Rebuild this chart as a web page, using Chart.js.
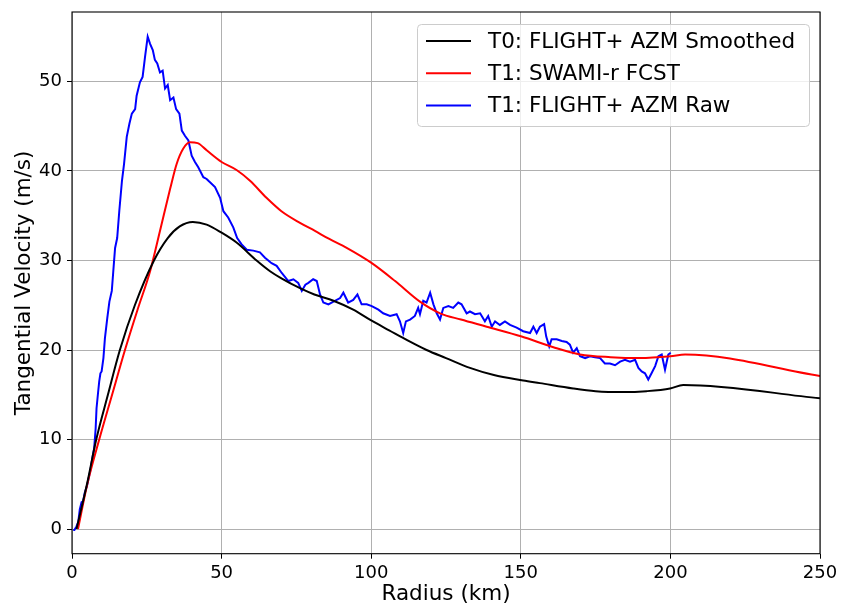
<!DOCTYPE html>
<html>
<head>
<meta charset="utf-8">
<script src="https://cdn.jsdelivr.net/npm/chart.js@4.4.0/dist/chart.umd.min.js"></script>
<style>
  html, body { margin: 0; padding: 0; background: #fff; }
  #chart { display: block; }
</style>
</head>
<body>
<canvas id="chart" width="848" height="610"></canvas>
<script>
// Series values (radius km -> tangential velocity m/s)
const smoothR = [1.5, 5, 8.1, 12, 16, 21, 27.4, 32, 36, 40.4, 45, 50, 55, 61.7, 66.2, 70, 76.2, 81, 87.4, 94, 100, 106, 112, 118.5, 125, 133, 141, 150.8, 156.4, 167.5, 175, 184.3, 192, 199.9, 204.3, 250];
const smoothV = [0, 5, 10, 15, 20, 25, 30, 32.5, 33.8, 34.3, 34.0, 33.1, 32.0, 30.0, 28.8, 28.0, 26.9, 26.2, 25.5, 24.5, 23.3, 22.2, 21.1, 20.0, 19.1, 18.0, 17.2, 16.6, 16.3, 15.7, 15.4, 15.3, 15.4, 15.7, 16.1, 14.6];

const fcstR = [2.0, 5.1, 9.1, 13.4, 17.7, 22, 26.1, 29.4, 32.8, 35, 37.2, 39.4, 42, 45, 50, 55, 59.5, 65, 70, 76.2, 81.2, 86, 91.8, 100.2, 108, 116.3, 123, 130, 138.6, 150.3, 160.9, 169.8, 180, 189.8, 200, 204.9, 250];
const fcstV = [0, 5, 10, 15, 20, 24.6, 28.8, 33.3, 38.0, 40.8, 42.5, 43.2, 43.1, 42.3, 41.0, 40.1, 38.9, 37.0, 35.5, 34.2, 33.3, 32.4, 31.4, 29.7, 27.7, 25.4, 24.1, 23.4, 22.6, 21.5, 20.3, 19.5, 19.2, 19.1, 19.3, 19.5, 17.1];

const rawR = [0.4, 0.8, 1.5, 2.1, 2.6, 3.2, 3.7, 4.3, 5.0, 5.5, 6.1, 6.6, 7.0, 7.4, 7.9, 8.2, 8.7, 9.1, 9.5, 9.9, 10.5, 11.0, 11.8, 12.5, 13.3, 13.8, 14.4, 15.1, 15.8, 16.7, 17.4, 18.3, 19.2, 20.0, 21.1, 21.6, 22.7, 23.6, 24.4, 25.3, 26.1, 27.0, 27.7, 28.5, 29.4, 30.3, 31.1, 32.0, 32.8, 33.9, 34.8, 35.9, 36.7, 37.8, 38.9, 40.0, 41.1, 42.2, 43.9, 45.0, 45.6, 47.8, 49.5, 50.6, 52.2, 53.9, 55.2, 56.7, 58.4, 60.6, 62.8, 64.5, 66.7, 68.4, 70.1, 72.3, 74.0, 75.6, 76.8, 78.0, 79.0, 80.6, 81.8, 82.9, 84.0, 85.7, 87.4, 89.6, 90.7, 92.3, 94.0, 95.4, 96.8, 98.5, 100.2, 102.4, 104.0, 106.3, 108.5, 109.6, 110.7, 111.6, 113.0, 114.6, 115.7, 116.3, 117.4, 118.5, 119.7, 120.8, 121.9, 123.0, 124.1, 125.8, 127.4, 129.1, 130.2, 131.9, 133.0, 134.7, 136.4, 138.0, 139.1, 140.3, 141.4, 143.0, 144.7, 146.4, 148.6, 150.8, 153.1, 154.2, 155.3, 156.4, 157.8, 158.5, 159.5, 160.3, 162.0, 163.7, 165.3, 166.4, 167.5, 168.7, 169.8, 171.5, 173.1, 174.8, 176.5, 178.1, 179.8, 181.5, 183.2, 184.8, 186.5, 188.2, 189.3, 190.4, 191.5, 192.6, 193.7, 194.9, 196.0, 197.1, 198.2, 199.3, 200.1];
const rawV = [-0.1, -0.1, 0.3, 0.8, 2.2, 3.0, 3.1, 4.1, 4.8, 5.6, 6.5, 7.5, 8.3, 9.0, 11.2, 13.5, 15.2, 16.5, 17.4, 17.6, 19.1, 21.3, 23.6, 25.4, 26.6, 28.8, 31.4, 32.5, 35.5, 38.9, 40.8, 43.8, 45.3, 46.4, 46.9, 48.4, 49.9, 50.5, 52.7, 55.0, 54.2, 53.5, 52.4, 52.0, 51.0, 51.2, 49.2, 49.6, 47.9, 48.2, 46.9, 46.4, 44.5, 43.9, 43.4, 41.7, 41.0, 40.4, 39.3, 39.1, 38.9, 38.2, 37.0, 35.5, 34.8, 33.7, 32.5, 31.8, 31.2, 31.1, 30.9, 30.3, 29.7, 29.4, 28.6, 27.7, 27.9, 27.5, 26.6, 27.3, 27.5, 27.9, 27.7, 26.2, 25.3, 25.1, 25.4, 25.8, 26.4, 25.3, 25.6, 26.2, 25.1, 25.1, 24.9, 24.5, 24.1, 23.8, 24.0, 23.2, 21.9, 23.2, 23.4, 23.8, 24.7, 24.0, 25.5, 25.3, 26.4, 25.1, 24.1, 23.4, 24.7, 24.9, 24.7, 25.3, 25.1, 24.1, 24.3, 24.0, 24.1, 23.2, 23.8, 22.6, 23.2, 22.8, 23.2, 22.8, 22.5, 22.1, 21.9, 22.6, 21.9, 22.6, 22.9, 21.5, 20.4, 21.2, 21.2, 21.0, 20.9, 20.6, 19.7, 20.2, 19.3, 19.1, 19.3, 19.2, 19.1, 18.5, 18.5, 18.3, 18.7, 18.9, 18.7, 18.9, 18.0, 17.6, 17.4, 16.7, 17.4, 18.2, 19.3, 19.5, 17.8, 19.5, 19.7];

const seriesLabels = ['T0: FLIGHT+ AZM Smoothed', 'T1: SWAMI-r FCST', 'T1: FLIGHT+ AZM Raw'];
const xTicks = [0, 50, 100, 150, 200, 250];
const yTicks = [0, 10, 20, 30, 40, 50];

const FONT = 'DejaVu Sans';

function toPoints(xs, ys) {
  return xs.map((x, i) => ({ x: x, y: ys[i] }));
}

// Four-sided axes frame like matplotlib spines
const framePlugin = {
  id: 'frame',
  afterDatasetsDraw(chart) {
    const { ctx, chartArea: a } = chart;
    ctx.save();
    ctx.strokeStyle = '#000';
    ctx.lineWidth = 1.1;
    ctx.strokeRect(a.left, a.top, a.right - a.left, a.bottom - a.top);
    ctx.restore();
  }
};

// Boxed legend in the upper right of the plot
const legendPlugin = {
  id: 'boxLegend',
  afterDraw(chart) {
    const ctx = chart.ctx;
    const bx = 417.5, by = 24.5, bw = 392, bh = 102, r = 4;
    ctx.save();
    ctx.beginPath();
    ctx.moveTo(bx + r, by);
    ctx.arcTo(bx + bw, by, bx + bw, by + bh, r);
    ctx.arcTo(bx + bw, by + bh, bx, by + bh, r);
    ctx.arcTo(bx, by + bh, bx, by, r);
    ctx.arcTo(bx, by, bx + bw, by, r);
    ctx.closePath();
    ctx.fillStyle = 'rgba(255,255,255,0.8)';
    ctx.fill();
    ctx.strokeStyle = '#cccccc';
    ctx.lineWidth = 1;
    ctx.stroke();

    ctx.font = '21.5px "' + FONT + '"';
    ctx.textBaseline = 'middle';
    ctx.textAlign = 'left';
    chart.data.datasets.forEach((ds, i) => {
      const yy = 41 + i * 32.3;
      ctx.strokeStyle = ds.borderColor;
      ctx.lineWidth = 2;
      ctx.beginPath();
      ctx.moveTo(426, yy);
      ctx.lineTo(471, yy);
      ctx.stroke();
      ctx.fillStyle = '#000';
      ctx.fillText(ds.label, 488, yy + 1);
    });
    ctx.restore();
  }
};

new Chart(document.getElementById('chart'), {
  type: 'line',
  data: {
    datasets: [
      {
        label: seriesLabels[0],
        data: toPoints(smoothR, smoothV),
        borderColor: '#000000',
        borderWidth: 2,
        pointRadius: 0,
        cubicInterpolationMode: 'monotone'
      },
      {
        label: seriesLabels[1],
        data: toPoints(fcstR, fcstV),
        borderColor: '#ff0000',
        borderWidth: 2,
        pointRadius: 0,
        cubicInterpolationMode: 'monotone'
      },
      {
        label: seriesLabels[2],
        data: toPoints(rawR, rawV),
        borderColor: '#0000ff',
        borderWidth: 2,
        pointRadius: 0,
        tension: 0
      }
    ]
  },
  options: {
    responsive: false,
    animation: false,
    devicePixelRatio: 1,
    layout: { padding: { left: 0, right: 28, top: 12, bottom: 0 } },
    plugins: {
      legend: { display: false },
      tooltip: { enabled: false }
    },
    scales: {
      x: {
        type: 'linear',
        min: 0,
        max: 250,
        afterBuildTicks: s => { s.ticks = xTicks.map(v => ({ value: v })); },
        afterFit: s => { s.height = 56.3; s.paddingLeft = 0; s.paddingRight = 0; },
        ticks: { color: '#000', font: { family: FONT, size: 18 }, padding: 4, maxRotation: 0 },
        grid: { color: '#b0b0b0', lineWidth: 1, tickColor: '#000', tickLength: 5 },
        border: { display: false },
        title: {
          display: true,
          text: 'Radius (km)',
          color: '#000',
          font: { family: FONT, size: 21.5 },
          padding: { top: 0, bottom: 3 }
        }
      },
      y: {
        type: 'linear',
        min: -2.75,
        max: 57.75,
        afterBuildTicks: s => { s.ticks = yTicks.map(v => ({ value: v })); },
        afterFit: s => { s.width = 72; s.paddingTop = 0; s.paddingBottom = 0; },
        ticks: { color: '#000', font: { family: FONT, size: 18 }, padding: 5 },
        grid: { color: '#b0b0b0', lineWidth: 1, tickColor: '#000', tickLength: 5 },
        border: { display: false },
        title: {
          display: true,
          text: 'Tangential Velocity (m/s)',
          color: '#000',
          font: { family: FONT, size: 21.5 },
          padding: { top: 12, bottom: 0 }
        }
      }
    }
  },
  plugins: [framePlugin, legendPlugin]
});
</script>
</body>
</html>
